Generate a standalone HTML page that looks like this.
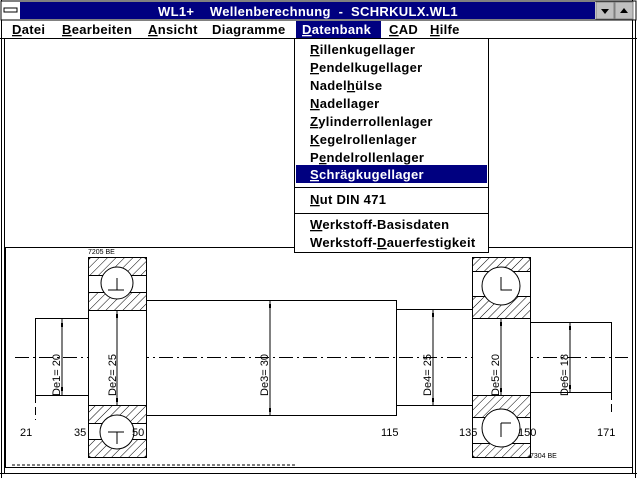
<!DOCTYPE html>
<html><head><meta charset="utf-8"><style>
html,body{margin:0;padding:0;background:#fff;width:637px;height:478px;overflow:hidden}
svg{display:block}
.m{font-family:"Liberation Sans",sans-serif;font-weight:bold;font-size:13px;letter-spacing:0.3px}
.d{font-family:"Liberation Sans",sans-serif;font-size:11px}
</style></head><body>
<svg width="637" height="478" viewBox="0 0 637 478" xmlns="http://www.w3.org/2000/svg">
<defs>
<pattern id="h" width="6" height="6" patternUnits="userSpaceOnUse" patternTransform="rotate(45)">
<rect width="6" height="6" fill="#fff"/><line x1="0" y1="0" x2="0" y2="6" stroke="#000" stroke-width="1"/>
</pattern>
</defs>
<rect width="637" height="478" fill="#fff"/>
<line x1="1.5" y1="0" x2="1.5" y2="478" stroke="#000"/>
<line x1="4.5" y1="38" x2="4.5" y2="474" stroke="#000"/>
<line x1="632.5" y1="0" x2="632.5" y2="474" stroke="#000"/>
<line x1="635.5" y1="20" x2="635.5" y2="478" stroke="#000"/>
<rect x="1" y="1" width="635" height="19" fill="#fff" stroke="#000"/>
<rect x="20" y="2" width="575" height="17" fill="#000080"/>
<rect x="4" y="8" width="13" height="4" fill="#fff" stroke="#000"/>
<rect x="596" y="2" width="18" height="17" fill="#c0c0c0" stroke="#808080"/>
<rect x="615" y="2" width="18" height="17" fill="#c0c0c0" stroke="#808080"/>
<polygon points="601,9 609,9 605,14" fill="#000"/>
<polygon points="620,13 628,13 624,8" fill="#000"/>
<text x="308" y="16" class="m" fill="#fff" text-anchor="middle" xml:space="preserve">WL1+    Wellenberechnung  -  SCHRKULX.WL1</text>
<line x1="0" y1="38.5" x2="637" y2="38.5" stroke="#000"/>
<rect x="296" y="21" width="85" height="17" fill="#000080"/>
<g class="m">
<text x="12" y="34"><tspan text-decoration="underline">D</tspan>atei</text>
<text x="62" y="34"><tspan text-decoration="underline">B</tspan>earbeiten</text>
<text x="148" y="34"><tspan text-decoration="underline">A</tspan>nsicht</text>
<text x="212" y="34">Diagramme</text>
<text x="302" y="34" fill="#fff"><tspan text-decoration="underline">D</tspan>atenbank</text>
<text x="389" y="34"><tspan text-decoration="underline">C</tspan>AD</text>
<text x="430" y="34"><tspan text-decoration="underline">H</tspan>ilfe</text>
</g>
<rect x="5.5" y="247.5" width="627" height="220" fill="none" stroke="#000"/>
<line x1="0" y1="473.5" x2="637" y2="473.5" stroke="#000"/>
<line x1="12" y1="465" x2="295" y2="465" stroke="#000" stroke-dasharray="3,2"/>
<line x1="15" y1="357.5" x2="628" y2="357.5" stroke="#000" stroke-dasharray="14,4,2,4"/>
<g stroke="#000" fill="none">
<polyline points="88,318.5 35.5,318.5 35.5,395.5 88,395.5"/>
<line x1="35.5" y1="395" x2="35.5" y2="420" stroke-dasharray="8,4"/>
<polyline points="146,300.5 396.5,300.5 396.5,415.5 146,415.5"/>
<polyline points="396,309.5 472,309.5"/><polyline points="396,405.5 472,405.5"/>
<polyline points="530,322.5 611.5,322.5 611.5,392.5 530,392.5"/>
<line x1="611.5" y1="392" x2="611.5" y2="415" stroke-dasharray="8,4"/>
<rect x="88.5" y="257.5" width="58" height="200" rx="3" fill="#fff"/>
<rect x="88.5" y="257.5" width="58" height="18" fill="url(#h)"/>
<rect x="88.5" y="292.5" width="58" height="18" fill="url(#h)"/>
<rect x="88.5" y="405.5" width="58" height="18" fill="url(#h)"/>
<rect x="88.5" y="439.5" width="58" height="18" fill="url(#h)"/>
<rect x="88.5" y="257.5" width="58" height="200" rx="3"/>
<circle cx="117" cy="283" r="16" fill="#fff"/>
<circle cx="117" cy="432" r="17" fill="#fff"/>
<path d="M108,290 H124 M117,278 V290 M108,432 H124 M117,432 V444"/>
<rect x="472.5" y="257.5" width="58" height="200" rx="3" fill="#fff"/>
<rect x="472.5" y="257.5" width="58" height="14" fill="url(#h)"/>
<rect x="472.5" y="296.5" width="58" height="22" fill="url(#h)"/>
<rect x="472.5" y="395.5" width="58" height="22" fill="url(#h)"/>
<rect x="472.5" y="443.5" width="58" height="14" fill="url(#h)"/>
<rect x="472.5" y="257.5" width="58" height="200" rx="3"/>
<line x1="472" y1="318.5" x2="530" y2="318.5"/><line x1="472" y1="395.5" x2="530" y2="395.5"/>
<circle cx="501" cy="286" r="19" fill="#fff"/>
<circle cx="501" cy="428" r="19" fill="#fff"/>
<path d="M501,277 V290 H512 M501,423 V437 M501,423 H511"/>
<line x1="62" y1="319" x2="62" y2="395"/>
<line x1="117" y1="311" x2="117" y2="405"/>
<line x1="270" y1="301" x2="270" y2="415"/>
<line x1="433" y1="310" x2="433" y2="405"/>
<line x1="501" y1="319" x2="501" y2="395"/>
<line x1="570" y1="323" x2="570" y2="392"/>
</g>
<g fill="#000">
<rect x="61" y="323" width="2" height="4"/><rect x="61" y="387" width="2" height="4"/>
<rect x="116" y="314" width="2" height="4"/><rect x="116" y="398" width="2" height="4"/>
<rect x="269" y="304" width="2" height="4"/><rect x="269" y="408" width="2" height="4"/>
<rect x="432" y="313" width="2" height="4"/><rect x="432" y="398" width="2" height="4"/>
<rect x="500" y="322" width="2" height="4"/><rect x="500" y="388" width="2" height="4"/>
<rect x="569" y="326" width="2" height="4"/><rect x="569" y="385" width="2" height="4"/>
</g>
<g class="d">
<text transform="translate(60,375) rotate(-90)" text-anchor="middle">De1= 20</text>
<text transform="translate(116,375) rotate(-90)" text-anchor="middle">De2= 25</text>
<text transform="translate(268,375) rotate(-90)" text-anchor="middle">De3= 30</text>
<text transform="translate(431,375) rotate(-90)" text-anchor="middle">De4= 25</text>
<text transform="translate(499,375) rotate(-90)" text-anchor="middle">De5= 20</text>
<text transform="translate(568,375) rotate(-90)" text-anchor="middle">De6= 18</text>
<text x="20" y="436">21</text><text x="74" y="436">35</text><text x="132" y="436">50</text>
<text x="381" y="436">115</text><text x="459" y="436">135</text><text x="518" y="436">150</text><text x="597" y="436">171</text>
<text x="88" y="254" font-size="7">7205 BE</text>
<text x="530" y="458" font-size="7">7304 BE</text>
</g>
<rect x="294.5" y="38.5" width="194" height="214" fill="#fff" stroke="#000"/>
<rect x="296" y="165" width="191" height="18" fill="#000080"/>
<line x1="295" y1="187.5" x2="488" y2="187.5" stroke="#000"/>
<line x1="295" y1="213.5" x2="488" y2="213.5" stroke="#000"/>
<g class="m">
<text x="310" y="54"><tspan text-decoration="underline">R</tspan>illenkugellager</text>
<text x="310" y="72"><tspan text-decoration="underline">P</tspan>endelkugellager</text>
<text x="310" y="90">Nadel<tspan text-decoration="underline">h</tspan>ülse</text>
<text x="310" y="108"><tspan text-decoration="underline">N</tspan>adellager</text>
<text x="310" y="126"><tspan text-decoration="underline">Z</tspan>ylinderrollenlager</text>
<text x="310" y="144"><tspan text-decoration="underline">K</tspan>egelrollenlager</text>
<text x="310" y="162">P<tspan text-decoration="underline">e</tspan>ndelrollenlager</text>
<text x="310" y="179" fill="#fff"><tspan text-decoration="underline">S</tspan>chrägkugellager</text>
<text x="310" y="204"><tspan text-decoration="underline">N</tspan>ut DIN 471</text>
<text x="310" y="229"><tspan text-decoration="underline">W</tspan>erkstoff-Basisdaten</text>
<text x="310" y="247">Werkstoff-<tspan text-decoration="underline">D</tspan>auerfestigkeit</text>
</g>
</svg>
</body></html>
